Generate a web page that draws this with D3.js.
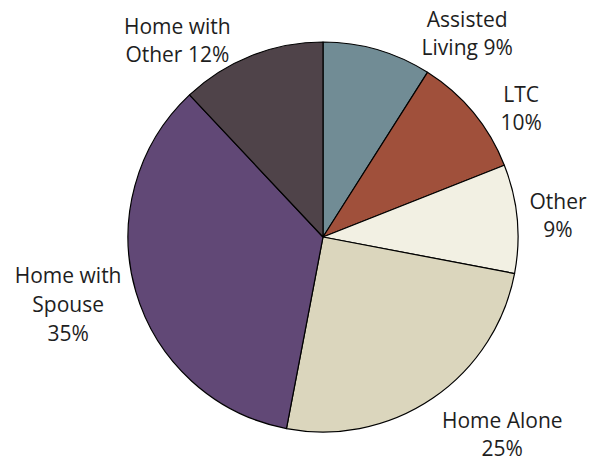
<!DOCTYPE html>
<html>
<head>
<meta charset="utf-8">
<script src="https://cdn.jsdelivr.net/npm/d3@7"></script>
<style>
  body { margin: 0; background: #fff; }
  svg text { font-family: 'Open Sans', sans-serif; font-size: 21px; fill: #1e1e1e; }
</style>
</head>
<body>
<svg id="svg_pie" width="598" height="461"></svg>
<script>
// slices, clockwise from 12 o'clock
const categories = ['Assisted Living', 'LTC', 'Other', 'Home Alone', 'Home with Spouse', 'Home with Other'];
const values = [9, 10, 9, 25, 35, 12];
const label_lines = [
  ['Assisted', 'Living 9%'],
  ['LTC', '10%'],
  ['Other', '9%'],
  ['Home Alone', '25%'],
  ['Home with', 'Spouse', '35%'],
  ['Home with', 'Other 12%'],
];
const colors = ['#718c95', '#a0503b', '#f2f0e3', '#dbd6bd', '#614876', '#4f4349'];

const svg = d3.select('svg#svg_pie');
const cx = 323, cy = 237, radius = 195;
const line_h = 29;

// shift of each label's first baseline from the label arc point (px)
const label_nudge = {
  'Assisted Living': [80, 11],
  'LTC': [21, 12],
  'Other': [6, -6],
  'Home Alone': [50, 1],
  'Home with Spouse': [-34, -18],
  'Home with Other': [-61, 11],
};

const pie = d3.pie().sort(null).value(d => d)(values);
const arc = d3.arc().innerRadius(0).outerRadius(radius);
const label_arc = d3.arc().innerRadius(radius + 35).outerRadius(radius + 35);

const g = svg.append('g').attr('transform', `translate(${cx},${cy})`);

g.selectAll('path.slice')
  .data(pie)
  .enter()
  .append('path')
  .attr('class', 'slice')
  .attr('d', arc)
  .attr('fill', (d, i) => colors[i])
  .attr('stroke', '#000')
  .attr('stroke-width', 1.2)
  .attr('stroke-linejoin', 'round');

const labels = g.selectAll('text.lbl')
  .data(pie)
  .enter()
  .append('text')
  .attr('class', 'lbl')
  .attr('text-anchor', 'middle')
  .attr('transform', (d, i) => {
    const c = label_arc.centroid(d);
    const n = label_nudge[categories[i]];
    return `translate(${c[0] + n[0]},${c[1] + n[1]})`;
  });

labels.each(function (d, i) {
  const t = d3.select(this);
  const lh = label_lines[i].length > 2 ? line_h : line_h - 1;
  label_lines[i].forEach((ln, j) => {
    t.append('tspan')
      .attr('x', 0)
      .attr('y', j * lh)
      .text(ln);
  });
});
</script>
</body>
</html>
